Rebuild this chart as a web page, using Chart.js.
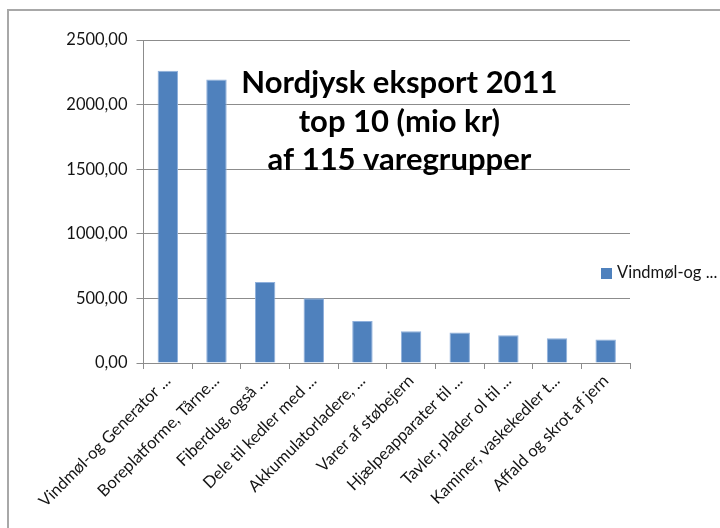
<!DOCTYPE html>
<html>
<head>
<meta charset="utf-8">
<script src="https://cdn.jsdelivr.net/npm/chart.js@4"></script>
<style>
  html, body { margin: 0; padding: 0; background: #fff; }
  body { width: 720px; height: 528px; position: relative; overflow: hidden; }
  #frame {
    position: absolute; left: 7px; top: 9px; width: 720px; height: 530px;
    border-left: 2px solid #a8a8a8; border-top: 2px solid #a8a8a8;
  }
  #chart { position: absolute; left: 0; top: 0; }
</style>
</head>
<body>
<div id="frame"></div>
<canvas id="chart" width="720" height="528"></canvas>
<script>
// Nordjysk eksport 2011, top 10 varegrupper (mio kr)
const categories = [
    'Vindmøl-og Generator ...',
    'Boreplatforme, Tårne...',
    'Fiberdug, også ...',
    'Dele til kedler med ...',
    'Akkumulatorladere, ...',
    'Varer af støbejern',
    'Hjælpeapparater til ...',
    'Tavler, plader ol til ...',
    'Kaminer, vaskekedler t...',
    'Affald og skrot af jern'
];
const exportValues = [2262, 2195, 627, 502, 326, 246, 236, 215, 192, 182];
const seriesName = 'Vindmøl-og ...';
const titleLines = ['Nordjysk eksport 2011', 'top 10 (mio kr)', 'af 115 varegrupper'];
const yTicks = [0, 500, 1000, 1500, 2000, 2500];

const barColor = '#4f81bd';
const gridColor = '#8c8c8c';
const textColor = '#141414';
const labelFont = { family: 'Lato', size: 16.5 };

// Title drawn inside the plot area, like the Excel original
const titlePlugin = {
    id: 'innerTitle',
    afterDatasetsDraw(chart) {
        const ctx = chart.ctx;
        const area = chart.chartArea;
        const cx = area.left + area.width * 0.526;
        ctx.save();
        ctx.font = 'bold 31px Lato';
        ctx.fillStyle = '#000';
        ctx.textAlign = 'center';
        ctx.textBaseline = 'alphabetic';
        titleLines.forEach((line, i) => {
            ctx.fillText(line, cx, area.top + 53 + i * 38.5);
        });
        ctx.restore();
    }
};

// Legend on the right, overlapping the plot area width as Excel does
const legendPlugin = {
    id: 'sideLegend',
    afterDraw(chart) {
        const ctx = chart.ctx;
        const area = chart.chartArea;
        const x = area.right - 29;
        const y = chart.height / 2 + 9;
        ctx.save();
        ctx.fillStyle = barColor;
        ctx.fillRect(x, y - 5, 11, 11);
        ctx.font = '16.5px Lato';
        ctx.fillStyle = textColor;
        ctx.textBaseline = 'middle';
        ctx.fillText(seriesName, x + 16, y);
        ctx.restore();
    }
};

const ctx = document.getElementById('chart').getContext('2d');
new Chart(ctx, {
    type: 'bar',
    data: {
        labels: categories,
        datasets: [{
            label: seriesName,
            data: exportValues,
            backgroundColor: barColor,
            borderColor: '#8fb0dc',
            borderWidth: 1,
            categoryPercentage: 1,
            barPercentage: 0.42
        }]
    },
    options: {
        responsive: false,
        animation: false,
        layout: { padding: { left: 53, right: 90, top: 40, bottom: 0 } },
        plugins: {
            legend: { display: false },
            title: { display: false },
            tooltip: { enabled: false }
        },
        scales: {
            x: {
                offset: true,
                grid: {
                    offset: true,
                    drawOnChartArea: false,
                    drawTicks: true,
                    tickLength: 6,
                    color: gridColor
                },
                border: { color: gridColor, width: 1 },
                ticks: {
                    autoSkip: false,
                    minRotation: 45,
                    maxRotation: 45,
                    padding: 2,
                    color: textColor,
                    font: labelFont
                },
                afterFit: s => { s.height = 165; }
            },
            y: {
                min: 0,
                max: 2500,
                afterBuildTicks: s => { s.ticks = yTicks.map(v => ({ value: v })); },
                grid: {
                    color: gridColor,
                    tickLength: 7
                },
                border: { color: gridColor, width: 1 },
                ticks: {
                    padding: 9,
                    color: textColor,
                    font: labelFont,
                    callback: v => v.toFixed(2).replace('.', ',')
                },
                afterFit: s => { s.width = 90.5; }
            }
        }
    },
    plugins: [titlePlugin, legendPlugin]
});
</script>
</body>
</html>
